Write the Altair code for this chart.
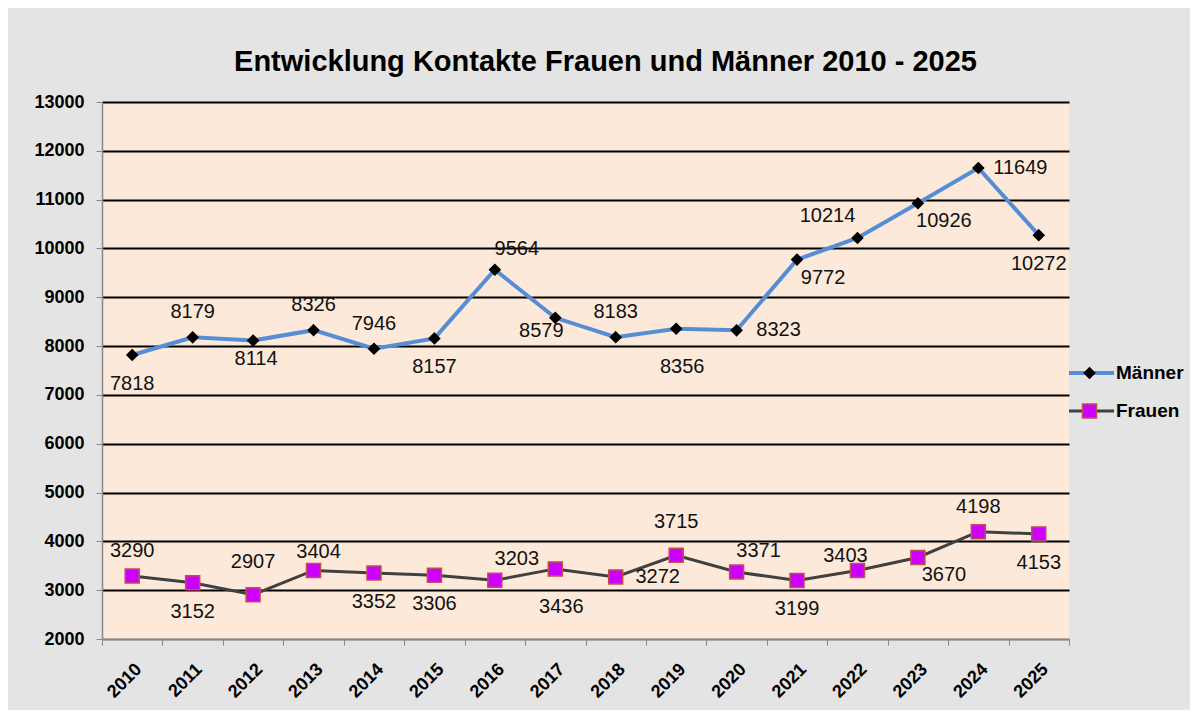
import altair as alt
import pandas as pd

# ---- data ----
years = [str(y) for y in range(2010, 2026)]
series_names = ["Männer", "Frauen"]
maenner = [7818, 8179, 8114, 8326, 7946, 8157, 9564, 8579, 8183, 8356,
           8323, 9772, 10214, 10926, 11649, 10272]
frauen = [3290, 3152, 2907, 3404, 3352, 3306, 3203, 3436, 3272, 3715,
          3371, 3199, 3403, 3670, 4198, 4153]
# where each data label sits relative to its point
maenner_label_pos = ["below", "above", "below_near", "above", "above", "below",
                     "above_right", "below_left", "above", "below_far", "right",
                     "below_right", "above_left", "below_right", "right", "below"]
frauen_label_pos = ["above", "below", "above_far", "above_near", "below", "below",
                    "above_right", "below_far", "right", "above_far", "above_right",
                    "below", "above_left_near", "below_right", "above", "below"]

rows = []
for i, yr in enumerate(years):
    rows.append({"year": yr, "series": "Männer", "value": maenner[i], "pos": maenner_label_pos[i]})
    rows.append({"year": yr, "series": "Frauen", "value": frauen[i], "pos": frauen_label_pos[i]})
df = pd.DataFrame(rows)

# ---- styling ----
FONT = "Liberation Sans"
OFFSETS = {
    "above": (0, -25),
    "above_near": (5, -18),
    "above_far": (0, -33),
    "below": (0, 29),
    "below_near": (3, 18),
    "below_far": (6, 38),
    "right": (42, 0),
    "above_right": (22, -21),
    "below_right": (26, 18),
    "above_left": (-30, -22),
    "above_left_near": (-12, -15),
    "below_left": (-14, 13),
}
DIAMOND = "M0,-0.75L0.75,0L0,0.75L-0.75,0Z"
SQUARE = "M-1,-1H1V1H-1Z"

x_enc = alt.X(
    "year:O",
    scale=alt.Scale(paddingInner=0, paddingOuter=0),
    axis=alt.Axis(title=None, labelAngle=-45, labelFont=FONT, labelFontSize=18,
                  labelFontWeight="bold", labelColor="black", tickBand="extent",
                  tickColor="#888888", tickSize=6, domainColor="#888888",
                  domainWidth=1.5, labelPadding=15, grid=False),
)
y_enc = alt.Y(
    "value:Q",
    scale=alt.Scale(domain=[2000, 13000], nice=False),
    axis=alt.Axis(title=None, values=list(range(2000, 13001, 1000)), format="d",
                  labelFont=FONT, labelFontSize=18, labelFontWeight="bold",
                  labelColor="black", labelPadding=12, tickColor="#888888",
                  tickSize=6, domainColor="#888888", domainWidth=1.5,
                  gridColor={"condition": {"test": "datum.value === 2000", "value": "#888888"},
                             "value": "black"},
                  gridWidth=2),
)

base = alt.Chart(df)

# the line legend uses labels with a trailing space so Vega-Lite keeps it
# separate from the marker legend drawn on top of it
line_names = [s + " " for s in series_names]
line_legend = alt.Legend(title=None, orient="none", legendX=965, legendY=261,
                         symbolType="stroke", symbolSize=2025, symbolStrokeWidth=4,
                         labelFont=FONT, labelFontSize=19, labelFontWeight="bold",
                         labelColor="black", labelOffset=0, clipHeight=20,
                         rowPadding=18, padding=0)
lines = base.transform_calculate(line_series="datum.series + ' '").mark_line().encode(
    x=x_enc, y=y_enc,
    color=alt.Color("line_series:N", scale=alt.Scale(domain=line_names, range=["#558ED5", "#404040"]),
                    legend=line_legend),
    strokeWidth=alt.StrokeWidth("line_series:N", scale=alt.Scale(domain=line_names, range=[4, 3]),
                                legend=None),
)

marker_legend = alt.Legend(title=None, orient="none", legendX=978, legendY=261,
                           symbolSize=196, symbolStrokeWidth=1.5, labelExpr="''",
                           labelFont=FONT, labelFontSize=19,
                           labelOffset=0, clipHeight=20, rowPadding=18, padding=0)
points = base.mark_point(filled=True, opacity=1, strokeWidth=1.5, size=196).encode(
    x=x_enc, y=y_enc,
    shape=alt.Shape("series:N", scale=alt.Scale(domain=series_names, range=[DIAMOND, SQUARE]),
                    legend=marker_legend),
    fill=alt.Fill("series:N", scale=alt.Scale(domain=series_names, range=["#000000", "#CC00FF"]),
                  legend=marker_legend),
    stroke=alt.Stroke("series:N", scale=alt.Scale(domain=series_names, range=["#000000", "#C0504D"]),
                      legend=marker_legend),
)

texts = []
for code, (dx, dy) in OFFSETS.items():
    texts.append(
        base.transform_filter(alt.datum.pos == code)
        .mark_text(dx=dx, dy=dy, font=FONT, fontSize=20, color="#111111",
                   align="center", baseline="middle")
        .encode(x=x_enc, y=y_enc, text=alt.Text("value:Q", format="d"))
    )

chart = alt.layer(lines, points, *texts).properties(
    width=967,
    height=537,
    title=alt.TitleParams(text="Entwicklung Kontakte Frauen und Männer 2010 - 2025",
                          font=FONT, fontSize=29, fontWeight="bold", color="black",
                          anchor="middle", dx=20, offset=16),
    background="#E4E4E4",
    padding={"left": 94, "top": 94, "right": 121, "bottom": 71},
    autosize=alt.AutoSizeParams(type="none"),
).configure_view(fill="#FDE9D9", strokeWidth=0)

chart.save("out.html", embed_options={"renderer": "svg", "actions": False})
